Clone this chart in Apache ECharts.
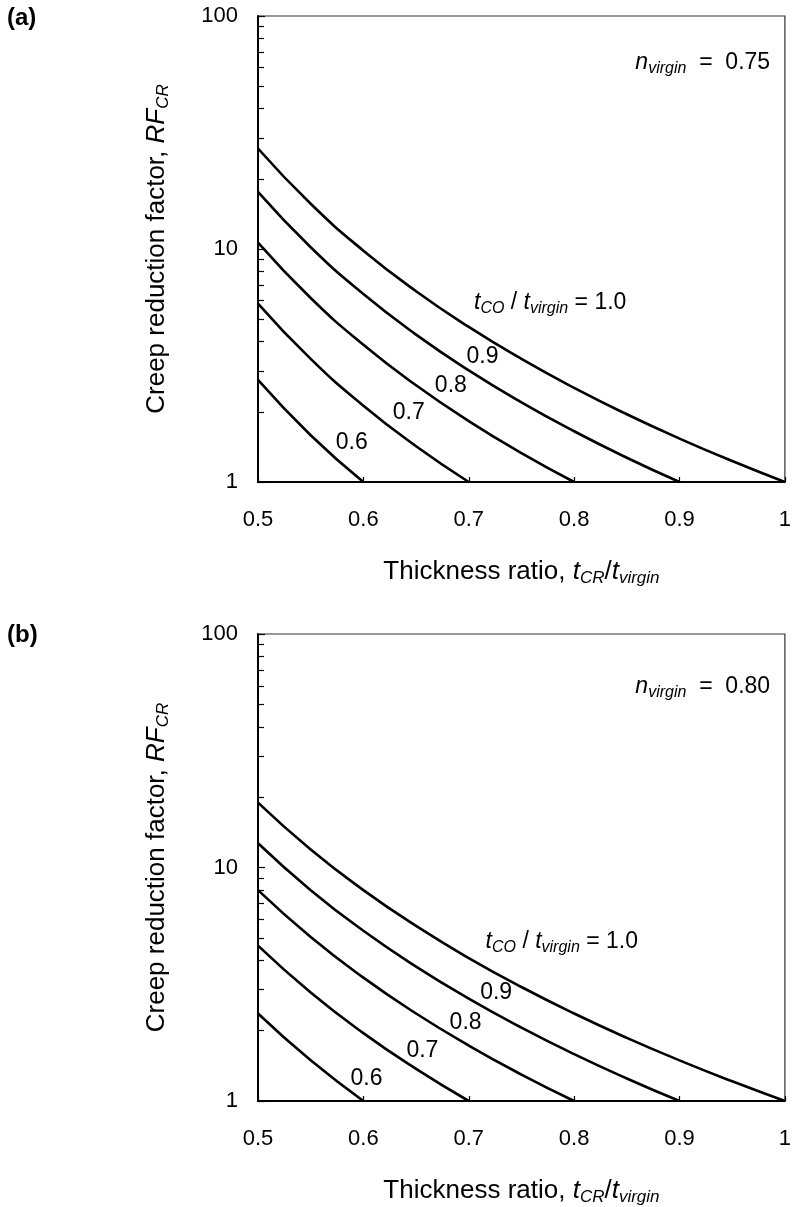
<!DOCTYPE html>
<html>
<head>
	<meta http-equiv="Content-Type" content="text/html; charset=utf-8" />
	<title>Creep reduction factor</title>
	<script src="https://cdn.jsdelivr.net/npm/echarts@6/dist/echarts.min.js"></script>
	<style>
		html, body { margin: 0; padding: 0; background: #fff; }
		#main { width: 794px; height: 1207px; }
	</style>
</head>
<body>
	<div id="main"></div>
	<script type="text/javascript">
		// thickness ratio t_CR/t_virgin, shared by every curve (each curve stops at its own t_CO/t_virgin)
		var thickness = [0.5, 0.55, 0.6, 0.65, 0.7, 0.75, 0.8, 0.85, 0.9, 0.95, 1.0];
		var coLevels = ['1.0', '0.9', '0.8', '0.7', '0.6'];

		// (a) n_virgin = 0.75
		var rfA10 = [27, 15.63, 9.84, 6.59, 4.63, 3.375, 2.536, 1.953, 1.536, 1.23, 1];
		var rfA09 = [17.58, 10.17, 6.405, 4.291, 3.014, 2.197, 1.651, 1.271, 1];
		var rfA08 = [10.65, 6.162, 3.88, 2.6, 1.826, 1.331, 1];
		var rfA07 = [5.832, 3.375, 2.125, 1.424, 1];
		var rfA06 = [2.744, 1.588, 1];

		// (b) n_virgin = 0.80
		var rfB10 = [18.96, 11.94, 8, 5.619, 4.096, 3.077, 2.37, 1.864, 1.493, 1.214, 1];
		var rfB09 = [12.7, 8, 5.359, 3.764, 2.744, 2.062, 1.588, 1.249, 1];
		var rfB08 = [8, 5.038, 3.375, 2.37, 1.728, 1.298, 1];
		var rfB07 = [4.63, 2.915, 1.953, 1.372, 1];
		var rfB06 = [2.37, 1.493, 1];

		var xTicks = [0.5, 0.6, 0.7, 0.8, 0.9, 1];

		// where the text notes sit, in data units [thickness, RF]
		var tagsA = [[0.713, 3.44], [0.683, 2.58], [0.643, 1.98], [0.589, 1.48]];
		var tagsB = [[0.726, 2.90], [0.697, 2.16], [0.656, 1.65], [0.603, 1.25]];
		var ratioNoteA = [0.705, 5.87], ratioNoteB = [0.716, 4.80];
		var nNoteA = [0.986, 62.9], nNoteB = [0.986, 59.3];
		var nValues = ['0.75', '0.80'];

		var font = "'Liberation Sans', Arial, sans-serif";
		function richSet(size, sub, lh) {
			return {
				r: { fontFamily: font, fontSize: size, color: '#000', lineHeight: lh },
				i: { fontFamily: font, fontSize: size, fontStyle: 'italic', color: '#000', lineHeight: lh },
				s: { fontFamily: font, fontSize: sub, fontStyle: 'italic', color: '#000', lineHeight: sub, verticalAlign: 'bottom' }
			};
		}
		var noteRich = richSet(23, 16, 28);
		var titleRich = richSet(26, 17, 30);

		// minor ticks 2..9 of each decade, on a helper value axis in log10 units
		var minorTicks = [];
		[1, 10].forEach(function (d) {
			for (var m = 2; m <= 9; m++) minorTicks.push(Math.log10(m * d));
		});

		function curve(arr) {
			return thickness.slice(0, arr.length).map(function (x, i) { return [x, arr[i]]; });
		}

		function curveSeries(gi, arrs) {
			return arrs.map(function (arr, k) {
				return {
					name: coLevels[k],
					type: 'line',
					xAxisIndex: gi,
					yAxisIndex: gi * 2,
					data: curve(arr),
					smooth: true,
					showSymbol: false,
					lineStyle: { color: '#000', width: 2.6 },
					silent: true,
					z: 3
				};
			});
		}

		function noteSeries(gi, tags, ratioNote, nNote, nVal) {
			var items = tags.map(function (p, k) {
				return { value: p, label: { formatter: '{r|' + coLevels[k + 1] + '}', position: 'inside' } };
			});
			items.push({ value: ratioNote, label: { position: 'right', distance: 0,
				formatter: '{i|t}{s|CO}{r| / }{i|t}{s|virgin}{r| = 1.0}' } });
			items.push({ value: nNote, label: { position: 'left', distance: 0,
				formatter: '{i|n}{s|virgin}{r|  =  ' + nVal + '}' } });
			return {
				type: 'scatter',
				xAxisIndex: gi,
				yAxisIndex: gi * 2,
				symbolSize: 0,
				silent: true,
				itemStyle: { opacity: 1, color: '#000' },
				data: items,
				label: { show: true, color: '#000', opacity: 1, textBorderWidth: 0, rich: noteRich },
				z: 4
			};
		}

		function xAxis(gi) {
			return {
				type: 'value',
				gridIndex: gi,
				min: 0.5,
				max: 1,
				interval: 0.1,
				name: '{r|Thickness ratio, }{i|t}{s|CR}{r|/}{i|t}{s|virgin}',
				nameLocation: 'middle',
				nameGap: 75,
				nameTextStyle: { rich: titleRich },
				axisLine: { lineStyle: { color: '#000', width: 2 } },
				axisTick: { inside: true, length: 5, lineStyle: { color: '#000', width: 1.2 } },
				axisLabel: {
					margin: 27,
					fontFamily: font,
					fontSize: 22,
					color: '#000',
					customValues: xTicks,
					formatter: function (v) { return v === 1 ? '1' : v.toFixed(1); }
				},
				splitLine: { show: false }
			};
		}

		function yAxes(gi) {
			return [{
				type: 'log',
				gridIndex: gi,
				min: 1,
				max: 100,
				logBase: 10,
				name: '{r|Creep reduction factor, }{i|RF}{s|CR}',
				nameLocation: 'middle',
				nameGap: 86,
				nameRotate: 90,
				nameTextStyle: { rich: titleRich },
				axisLine: { lineStyle: { color: '#000', width: 2 } },
				axisTick: { inside: true, length: 7, lineStyle: { color: '#000', width: 1.2 } },
				axisLabel: { margin: 20, fontFamily: font, fontSize: 22, color: '#000' },
				splitLine: { show: false }
			}, {
				type: 'value',
				gridIndex: gi,
				min: 0,
				max: 2,
				position: 'left',
				axisLine: { show: false },
				axisTick: { show: true, inside: true, length: 6, customValues: minorTicks,
					lineStyle: { color: '#000', width: 1.2 } },
				axisLabel: { show: false },
				splitLine: { show: false }
			}];
		}

		var panelTitle = { fontFamily: font, fontSize: 24, fontWeight: 'bold', color: '#000' };

		var chart = echarts.init(document.getElementById('main'), null, { renderer: 'canvas' });
		chart.setOption({
			animation: false,
			backgroundColor: '#fff',
			title: [
				{ text: '(a)', left: 7, top: 6, padding: 0, textStyle: panelTitle },
				{ text: '(b)', left: 7, top: 623, padding: 0, textStyle: panelTitle }
			],
			grid: [
				{ left: 258, top: 16, width: 530, height: 466, show: true, borderColor: '#333', borderWidth: 1.2 },
				{ left: 258, top: 634, width: 530, height: 467, show: true, borderColor: '#333', borderWidth: 1.2 }
			],
			xAxis: [xAxis(0), xAxis(1)],
			yAxis: yAxes(0).concat(yAxes(1)),
			series: []
				.concat(curveSeries(0, [rfA10, rfA09, rfA08, rfA07, rfA06]))
				.concat(curveSeries(1, [rfB10, rfB09, rfB08, rfB07, rfB06]))
				.concat([
					noteSeries(0, tagsA, ratioNoteA, nNoteA, nValues[0]),
					noteSeries(1, tagsB, ratioNoteB, nNoteB, nValues[1])
				])
		});
	</script>
</body>
</html>
